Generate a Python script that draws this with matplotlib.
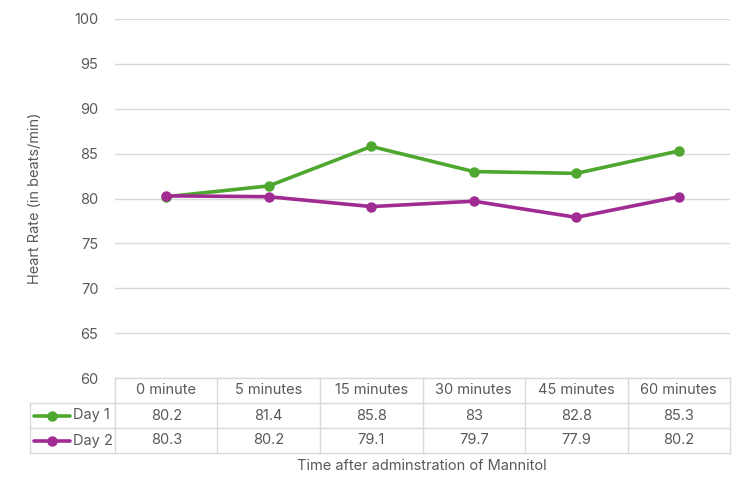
import matplotlib
matplotlib.use('Agg')
import matplotlib.pyplot as plt
from matplotlib.lines import Line2D

# Data
categories = ['0 minute', '5 minutes', '15 minutes', '30 minutes', '45 minutes', '60 minutes']
day1 = [80.2, 81.4, 85.8, 83, 82.8, 85.3]
day2 = [80.3, 80.2, 79.1, 79.7, 77.9, 80.2]
series_names = ['Day 1', 'Day 2']
yticks = [60, 65, 70, 75, 80, 85, 90, 95, 100]

green = '#4EA72E'
purple = '#A02B93'
grid_c = '#D9D9D9'
text_c = '#595959'

plt.rcParams['font.family'] = ['Inter', 'DejaVu Sans']

W, H = 750, 500
fig = plt.figure(figsize=(7.5, 5), dpi=100)
left, right, top, bottom = 115, 730, 19, 378
ax = fig.add_axes([left / W, 1 - bottom / H, (right - left) / W, (bottom - top) / H])

x = list(range(len(categories)))
ax.plot(x, day1, color=green, lw=2.6, marker='o', ms=6.5, solid_capstyle='round', zorder=3)
ax.plot(x, day2, color=purple, lw=2.6, marker='o', ms=6.5, solid_capstyle='round', zorder=3)

ax.set_xlim(-0.5, len(categories) - 0.5)
ax.set_ylim(60, 100)
ax.set_yticks(yticks)
ax.set_xticks([])
ax.yaxis.grid(True, color=grid_c, lw=1)
ax.set_axisbelow(True)
for s in ax.spines.values():
    s.set_visible(False)
ax.tick_params(axis='y', length=0, pad=12, labelsize=10.5, labelcolor=text_c)
ax.set_ylabel('Heart Rate (in beats/min)', fontsize=10.5, color=text_c, labelpad=23)

# Data table below the axes (figure pixel coords -> fraction)
def fx(px):
    return px / W

def fy(py):
    return 1 - py / H

row_h = 25
col_w = (right - left) / len(categories)
label_left = 30
rows_top = bottom
n_rows = 3
lw = 1

# horizontal lines
fig.add_artist(Line2D([fx(left), fx(right)], [fy(rows_top), fy(rows_top)], color=grid_c, lw=lw))
for r in range(1, n_rows + 1):
    yy = rows_top + r * row_h
    fig.add_artist(Line2D([fx(label_left), fx(right)], [fy(yy), fy(yy)], color=grid_c, lw=lw))
# vertical lines
for c in range(len(categories) + 1):
    xx = left + c * col_w
    fig.add_artist(Line2D([fx(xx), fx(xx)], [fy(rows_top), fy(rows_top + n_rows * row_h)], color=grid_c, lw=lw))
fig.add_artist(Line2D([fx(label_left), fx(label_left)], [fy(rows_top + row_h), fy(rows_top + n_rows * row_h)], color=grid_c, lw=lw))

# header
for c, cat in enumerate(categories):
    fig.text(fx(left + (c + 0.5) * col_w), fy(rows_top + row_h / 2), cat,
             ha='center', va='center', fontsize=10.5, color=text_c)

# rows
for r, (name, vals, col) in enumerate(zip(series_names, [day1, day2], [green, purple])):
    yc = rows_top + (r + 1.5) * row_h
    fig.add_artist(Line2D([fx(34), fx(70)], [fy(yc), fy(yc)], color=col, lw=2.6,
                          solid_capstyle='round'))
    fig.add_artist(Line2D([fx(52)], [fy(yc)], color=col, marker='o', ms=6.5, lw=0))
    fig.text(fx(73), fy(yc), name, ha='left', va='center', fontsize=10.5, color=text_c)
    for c, v in enumerate(vals):
        fig.text(fx(left + (c + 0.5) * col_w), fy(yc), f'{v:g}',
                 ha='center', va='center', fontsize=10.5, color=text_c)

fig.text(fx(422), fy(466), 'Time after adminstration of Mannitol',
         ha='center', va='center', fontsize=10.5, color=text_c)

fig.savefig('out.png', dpi=100, facecolor='white')
